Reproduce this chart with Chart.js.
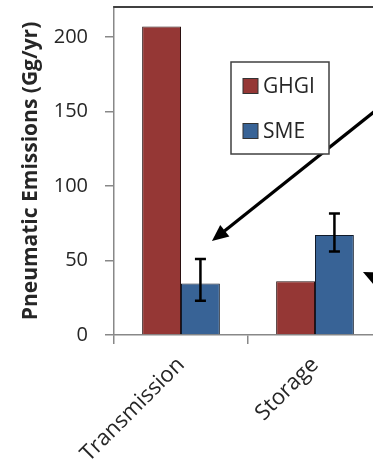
<!DOCTYPE html>
<html>
<head>
<meta charset="utf-8">
<script src="https://cdn.jsdelivr.net/npm/chart.js@4.4.1/dist/chart.umd.min.js"></script>
<style>
html,body{margin:0;padding:0;background:#fff;overflow:hidden;width:373px;height:463px;}
#wrap{width:390px;height:463px;}
</style>
</head>
<body>
<div id="wrap"><canvas id="c" width="390" height="463"></canvas></div>
<script>
// ---- data ----
const categories = ["Transmission", "Storage"];
const seriesNames = ["GHGI", "SME"];
const ghgiValues = [207, 36];
const smeValues = [34.5, 67];
const smeErrLow = [23, 56];
const smeErrHigh = [51, 81.5];
const yTicks = [0, 50, 100, 150, 200];
const yMax = 220;
const yTitle = "Pneumatic Emissions (Gg/yr)";

// arrows (annotations) in data coordinates: x as category index, y as value
const arrows = [
  {x0: 1.78, y0: 174, x1: 0.231, y1: 63},
  {x0: 1.806, y0: 23, x1: 1.358, y1: 42.3}
];

const colors = {GHGI: "#953735", SME: "#386396"};
const FONT = "'Open Sans', 'Liberation Sans', sans-serif";
const LEFT = 114, BOTTOM = 335, H = 463, PADB = 0;

const errorBarPlugin = {
  id: 'errorBars',
  afterDatasetsDraw(chart) {
    const ctx = chart.ctx;
    const meta = chart.getDatasetMeta(1);
    const ys = chart.scales.y;
    ctx.save();
    ctx.strokeStyle = '#000';
    ctx.lineWidth = 2.5;
    meta.data.forEach((bar, i) => {
      const x = bar.x;
      const yl = ys.getPixelForValue(smeErrLow[i]);
      const yh = ys.getPixelForValue(smeErrHigh[i]);
      ctx.beginPath();
      ctx.moveTo(x, yl); ctx.lineTo(x, yh);
      ctx.moveTo(x - 5.5, yl); ctx.lineTo(x + 5.5, yl);
      ctx.moveTo(x - 5.5, yh); ctx.lineTo(x + 5.5, yh);
      ctx.stroke();
    });
    ctx.restore();
  }
};

const framePlugin = {
  id: 'frame',
  afterDraw(chart) {
    const ctx = chart.ctx;
    const a = chart.chartArea;
    const xs = chart.scales.x, ys = chart.scales.y;
    ctx.save();
    // top border of plot area
    ctx.strokeStyle = '#404040';
    ctx.lineWidth = 2;
    ctx.beginPath();
    ctx.moveTo(a.left - 0.75, a.top); ctx.lineTo(chart.width, a.top);
    ctx.stroke();

    // arrows
    ctx.strokeStyle = '#000';
    ctx.fillStyle = '#000';
    arrows.forEach(ar => {
      const x0 = xs.getPixelForValue(ar.x0), y0 = ys.getPixelForValue(ar.y0);
      const x1 = xs.getPixelForValue(ar.x1), y1 = ys.getPixelForValue(ar.y1);
      const ang = Math.atan2(y0 - y1, x0 - x1);
      const L = 18, half = 0.42;
      const bx = x1 + (L - 2) * Math.cos(ang), by = y1 + (L - 2) * Math.sin(ang);
      ctx.lineWidth = 3.2;
      ctx.beginPath(); ctx.moveTo(x0, y0); ctx.lineTo(bx, by); ctx.stroke();
      ctx.beginPath();
      ctx.moveTo(x1, y1);
      ctx.lineTo(x1 + L * Math.cos(ang + half), y1 + L * Math.sin(ang + half));
      ctx.lineTo(x1 + L * Math.cos(ang - half), y1 + L * Math.sin(ang - half));
      ctx.closePath(); ctx.fill();
    });

    // legend box
    const lx = a.left + 117, ly = a.top + 55, lw = 98, lh = 92;
    ctx.fillStyle = '#fff';
    ctx.fillRect(lx, ly, lw, lh);
    ctx.strokeStyle = '#404040';
    ctx.lineWidth = 1.5;
    ctx.strokeRect(lx, ly, lw, lh);
    ctx.font = "21px " + FONT;
    ctx.textBaseline = 'middle';
    ctx.textAlign = 'left';
    seriesNames.forEach((name, i) => {
      const cy = ly + 24 + i * 45;
      ctx.fillStyle = colors[name];
      ctx.fillRect(lx + 12, cy - 7.5, 15, 15);
      ctx.strokeStyle = '#333';
      ctx.lineWidth = 1;
      ctx.strokeRect(lx + 12, cy - 7.5, 15, 15);
      ctx.fillStyle = '#262626';
      ctx.fillText(name, lx + 32, cy + 1);
    });
    ctx.restore();
  }
};

new Chart(document.getElementById('c'), {
  type: 'bar',
  data: {
    labels: categories,
    datasets: [
      {label: seriesNames[0], data: ghgiValues, backgroundColor: colors.GHGI, borderColor: '#2a1010', borderWidth: 1},
      {label: seriesNames[1], data: smeValues, backgroundColor: colors.SME, borderColor: '#101a2a', borderWidth: 1}
    ]
  },
  options: {
    responsive: false,
    animation: false,
    events: [],
    layout: {padding: {left: 0, right: 8, top: 7, bottom: PADB}},
    datasets: {bar: {barPercentage: 1, categoryPercentage: 0.58}},
    plugins: {legend: {display: false}, tooltip: {enabled: false}},
    scales: {
      x: {
        grid: {display: true, drawOnChartArea: false, drawTicks: true, tickLength: 9, tickColor: '#888', lineWidth: 1.5, offset: true},
        border: {display: true, color: '#888', width: 1.5},
        ticks: {color: '#262626', font: {family: FONT, size: 22}, minRotation: 45, maxRotation: 45, autoSkip: false, padding: 8},
        afterFit(s) { s.height = H - BOTTOM - PADB; s.paddingLeft = 0; s.paddingRight = 0; s.paddingTop = 0; s.paddingBottom = 0; }
      },
      y: {
        min: 0, max: yMax,
        afterBuildTicks(s) { s.ticks = yTicks.map(v => ({value: v})); },
        grid: {display: true, drawOnChartArea: false, drawTicks: true, tickLength: 9, tickColor: '#888', lineWidth: 1.5},
        border: {display: true, color: '#888', width: 1.5},
        ticks: {color: '#262626', font: {family: FONT, size: 20}, padding: 17},
        title: {display: true, text: yTitle, color: '#262626', font: {family: FONT, size: 21, weight: 'bold'}, padding: {top: 18, bottom: 0}},
        afterFit(s) { s.width = LEFT; s.paddingTop = 0; s.paddingBottom = 0; s.paddingLeft = 0; s.paddingRight = 0; }
      }
    }
  },
  plugins: [errorBarPlugin, framePlugin]
});
</script>
</body>
</html>
